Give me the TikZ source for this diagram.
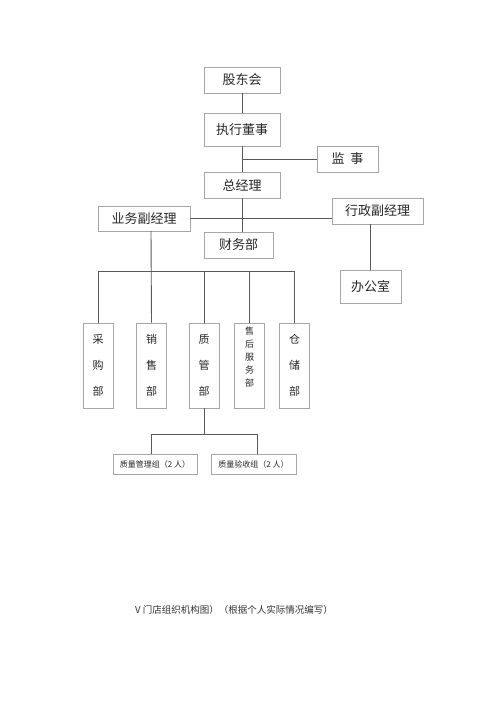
\documentclass[tikz,border=0pt]{standalone}
\usepackage{fontspec}
\newfontfamily\cjk{Noto Sans CJK SC}
\begin{document}
\begin{tikzpicture}[x=1pt, y=-1pt,
    box/.style={draw=gray!70, line width=0.8pt, inner sep=0pt, text=black!85, font=\cjk\fontsize{13}{15}\selectfont},
    tallbox/.style={box, minimum width=30pt, minimum height=85pt, align=center, font=\cjk\fontsize{11}{26}\selectfont},
    smallbox/.style={box, minimum width=85pt, minimum height=20pt, font=\cjk\fontsize{8}{10}\selectfont},
    link/.style={draw=black!65, line width=0.9pt}]
  \useasboundingbox (0, 0) rectangle (500, 708);
  % top levels
  \node[box, minimum width=76pt, minimum height=26pt] at (242, 80) (board) {股东会};
  \node[box, minimum width=76pt, minimum height=33pt] at (242, 129.5) (exec) {执行董事};
  \node[box, minimum width=61pt, minimum height=26pt] at (347.5, 159) (super) {监\ \ 事};
  \node[box, minimum width=76pt, minimum height=26pt] at (242, 185) (gm) {总经理};
  \node[box, minimum width=92pt, minimum height=25pt] at (144, 218.5) (bizvp) {业务副经理};
  \node[box, minimum width=91pt, minimum height=26pt] at (377.5, 211) (adminvp) {行政副经理};
  \node[box, minimum width=69pt, minimum height=26pt] at (238.5, 245) (finance) {财务部};
  \node[box, minimum width=61pt, minimum height=33pt] at (370.5, 286.5) (office) {办公室};
  % departments
  \node[tallbox] at (98, 365.5) (buy) {采\\购\\部};
  \node[tallbox] at (151.5, 365.5) (sales) {销\\售\\部};
  \node[tallbox] at (204, 365.5) (qc) {质\\管\\部};
  \node[tallbox, font=\cjk\fontsize{9}{13}\selectfont] at (249.5, 365.5) (service) {售\\后\\服\\务\\部\\[4pt]};
  \node[tallbox] at (294.5, 365.5) (store) {仓\\储\\部};
  \node[smallbox, minimum width=84pt] at (155, 464) (qcmgr) {质量管理组（2 人）};
  \node[smallbox] at (253.5, 464) (qcchk) {质量验收组（2 人）};
  \coordinate (bus) at (98, 271);
  \coordinate (fork) at (204, 434);
  % connectors
  \draw[link] (board) -- (exec);
  \draw[link] (exec) -- (gm);
  \draw[link] (exec.south |- super.west) -- (super.west);
  \draw[link] (gm.south) -- (gm.south |- finance.north);
  \draw[link] (bizvp.east) -- (bizvp.east -| adminvp.west);
  \draw[link] (office.north) -- (office.north |- adminvp.south);
  \draw[link] (151, 231) -- (sales.north);
  \draw[link] (buy.north) -- (buy.north |- bus) -- (store.north |- bus) -- (store.north);
  \draw[link] (qc.north) -- (qc.north |- bus);
  \draw[link] (service.north) -- (service.north |- bus);
  \draw[link] (qc.south) -- (fork);
  \draw[link] (151, 454) -- (151, 434) -- (257, 434) -- (257, 454);
  \node[font=\cjk\fontsize{9.5}{11}\selectfont, text=black!80] at (234, 610) (caption) {V 门店组织机构图）（根据个人实际情况编写）};
\end{tikzpicture}
\end{document}
